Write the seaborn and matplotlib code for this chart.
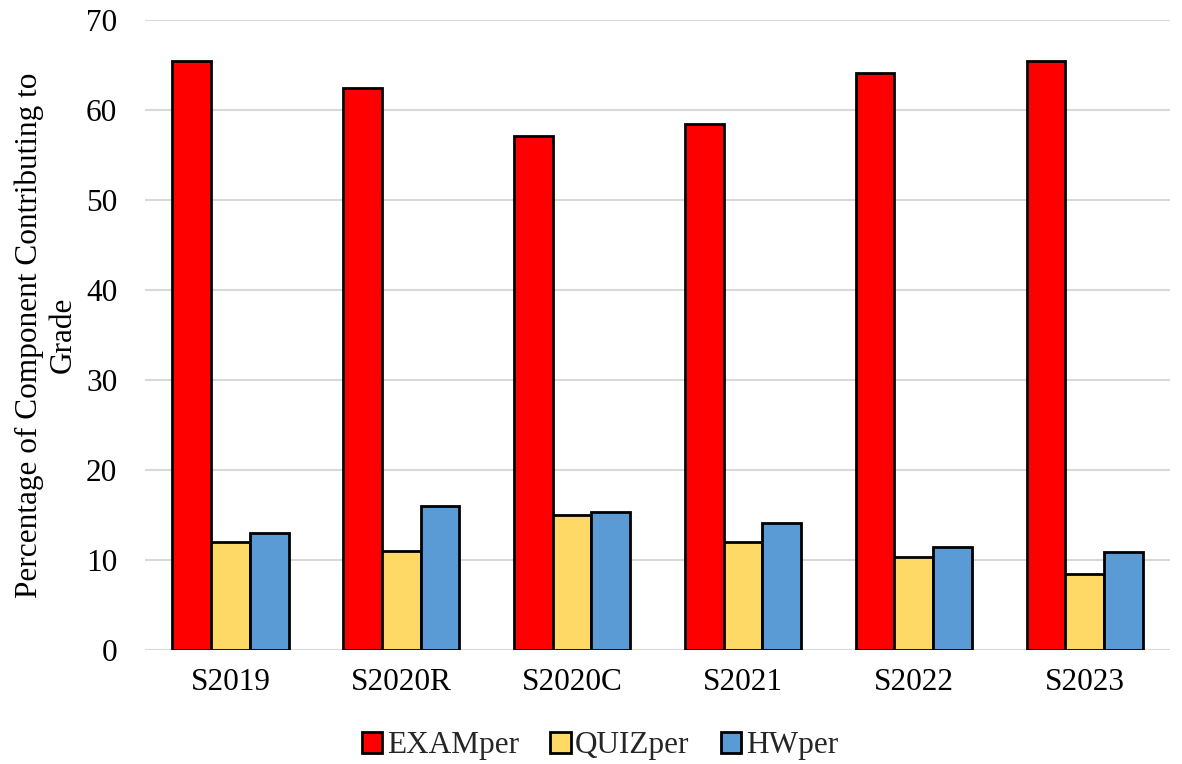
import numpy as np
import pandas as pd
import matplotlib
matplotlib.use("Agg")
import matplotlib.pyplot as plt
import seaborn as sns

terms = ["S2019", "S2020R", "S2020C", "S2021", "S2022", "S2023"]
exam_per = [65.5, 62.5, 57.1, 58.5, 64.1, 65.4]
quiz_per = [12.0, 11.0, 15.0, 12.0, 10.3, 8.5]
hw_per = [13.0, 16.0, 15.3, 14.1, 11.4, 10.9]
components = ["EXAMper", "QUIZper", "HWper"]
colors = ["#FF0000", "#FFD966", "#5B9BD5"]

df = pd.DataFrame({
    "term": terms * 3,
    "component": [c for c in components for _ in terms],
    "value": exam_per + quiz_per + hw_per,
})

sns.set_theme(style="white")
plt.rcParams["font.family"] = ["Liberation Serif", "DejaVu Serif"]

FS = 22.5
W, H = 1182, 764
fig = plt.figure(figsize=(W / 100, H / 100), dpi=100)
ax = fig.add_axes([145 / W, 114 / H, 1025 / W, 630 / H])

sns.barplot(data=df, x="term", y="value", hue="component", order=terms,
            hue_order=components, palette=colors, saturation=1, width=0.68,
            gap=0, edgecolor="black", linewidth=2.0, ax=ax, zorder=3)

ax.set_ylim(0, 70)
ax.set_yticks(range(0, 71, 10))
ax.grid(axis="y", color="#d9d9d9", linewidth=1.5, zorder=0)
ax.set_axisbelow(True)
for s in ax.spines.values():
    s.set_visible(False)
ax.tick_params(axis="both", length=0, labelsize=FS, colors="black")
ax.tick_params(axis="y", pad=20)
ax.tick_params(axis="x", pad=13)
ax.set_xlabel("")
ax.set_ylabel("Percentage of Component Contributing to\nGrade", fontsize=FS,
              color="black", linespacing=1.2, labelpad=6)

ax.get_legend().remove()
handles, labels = ax.get_legend_handles_labels()
fig.legend(handles, labels, loc="center", bbox_to_anchor=(600 / W, 1 - 746 / H),
           ncol=3, frameon=False, fontsize=FS, handlelength=0.65,
           handleheight=0.65, handletextpad=0.15, columnspacing=1.0,
           borderpad=0)

fig.savefig("out.png", dpi=100)
